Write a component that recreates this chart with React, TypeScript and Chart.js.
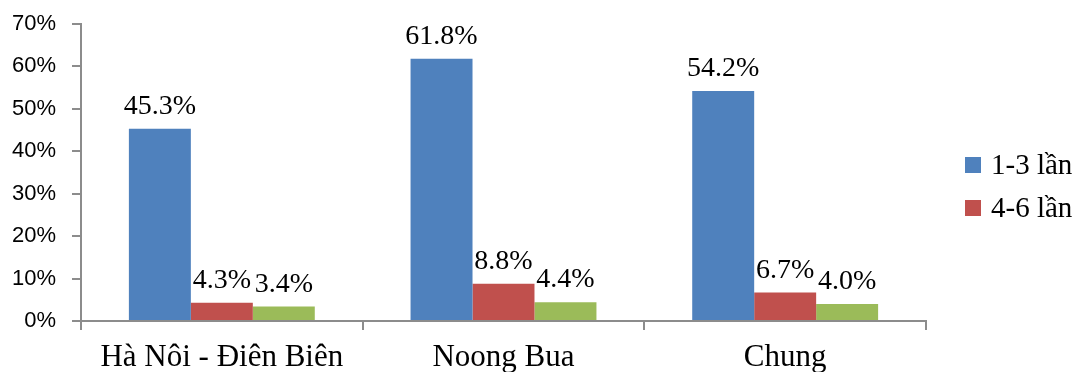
import React, { useEffect, useRef } from "react";
import { Chart, registerables } from "chart.js";

Chart.register(...registerables);

const categories = ["Hà Nôi - Điên Biên", "Noong Bua", "Chung"];
const seriesNames = ["1-3 lần", "4-6 lần", "> 6 lần"];
const series1 = [45.3, 61.8, 54.2];
const series2 = [4.3, 8.8, 6.7];
const series3 = [3.4, 4.4, 4.0];
const colors = ["#4F81BD", "#C0504D", "#9BBB59"];
const legendShown = 2;

const SERIF = "'Liberation Serif', 'Times New Roman', serif";
const SANS = "'Liberation Sans', Arial, sans-serif";

export default function App() {
  const ref = useRef<HTMLCanvasElement | null>(null);
  useEffect(() => {
    document.body.style.margin = "0";
    const ctx = ref.current!.getContext("2d")!;
    const labelPlugin = {
      id: "valueLabels",
      afterDatasetsDraw(chart: any) {
        const c = chart.ctx;
        c.save();
        c.font = `28px ${SERIF}`;
        c.fillStyle = "#000";
        c.textAlign = "center";
        c.textBaseline = "alphabetic";
        chart.data.datasets.forEach((ds: any, i: number) => {
          const meta = chart.getDatasetMeta(i);
          meta.data.forEach((bar: any, j: number) => {
            c.fillText(ds.data[j].toFixed(1) + "%", bar.x, bar.y - 15);
          });
        });
        c.restore();
      },
    };
    const legendPlugin = {
      id: "customLegend",
      afterDraw(chart: any) {
        const c = chart.ctx;
        c.save();
        c.font = `29px ${SERIF}`;
        c.textBaseline = "middle";
        c.textAlign = "left";
        for (let i = 0; i < legendShown; i++) {
          const y = 165 + i * 43;
          c.fillStyle = colors[i];
          c.fillRect(965, y - 8, 16, 16);
          c.fillStyle = "#000";
          c.fillText(seriesNames[i], 991, y + 1);
        }
        c.restore();
      },
    };
    const chart = new Chart(ctx, {
      type: "bar",
      data: {
        labels: categories,
        datasets: [series1, series2, series3].map((d, i) => ({
          label: seriesNames[i],
          data: d,
          backgroundColor: colors[i],
          borderWidth: 0,
          categoryPercentage: 0.66,
          barPercentage: 1,
        })),
      },
      options: {
        animation: false,
        responsive: false,
        layout: { padding: { top: 24, right: 152, left: 0, bottom: 0 } },
        plugins: { legend: { display: false }, tooltip: { enabled: false } },
        scales: {
          x: {
            grid: {
              offset: true,
              drawOnChartArea: false,
              drawTicks: true,
              tickLength: 9,
              color: "#8c8c8c",
              lineWidth: 2,
            },
            border: { color: "#8c8c8c", width: 2 },
            ticks: {
              color: "#000",
              font: { family: SERIF, size: 31 },
              padding: 9,
              maxRotation: 0,
              autoSkip: false,
            },
            afterFit(scale: any) {
              scale.height = 51;
              scale.paddingLeft = 0;
              scale.paddingRight = 0;
            },
          },
          y: {
            min: 0,
            max: 70,
            ticks: {
              stepSize: 10,
              color: "#000",
              font: { family: SANS, size: 22 },
              padding: 16,
              callback: (v: any) => v + "%",
            },
            grid: {
              drawOnChartArea: false,
              drawTicks: true,
              tickLength: 9,
              color: "#8c8c8c",
              lineWidth: 2,
            },
            border: { color: "#8c8c8c", width: 2 },
            afterFit(scale: any) {
              scale.width = 81;
              scale.paddingTop = 0;
              scale.paddingBottom = 0;
            },
          },
        },
      },
      plugins: [labelPlugin, legendPlugin],
    });
    return () => chart.destroy();
  }, []);
  return (
    <div style={{ position: "absolute", left: 0, top: 0, width: 1078, height: 372, background: "#fff" }}>
      <canvas ref={ref} width={1078} height={372} style={{ display: "block" }} />
    </div>
  );
}
